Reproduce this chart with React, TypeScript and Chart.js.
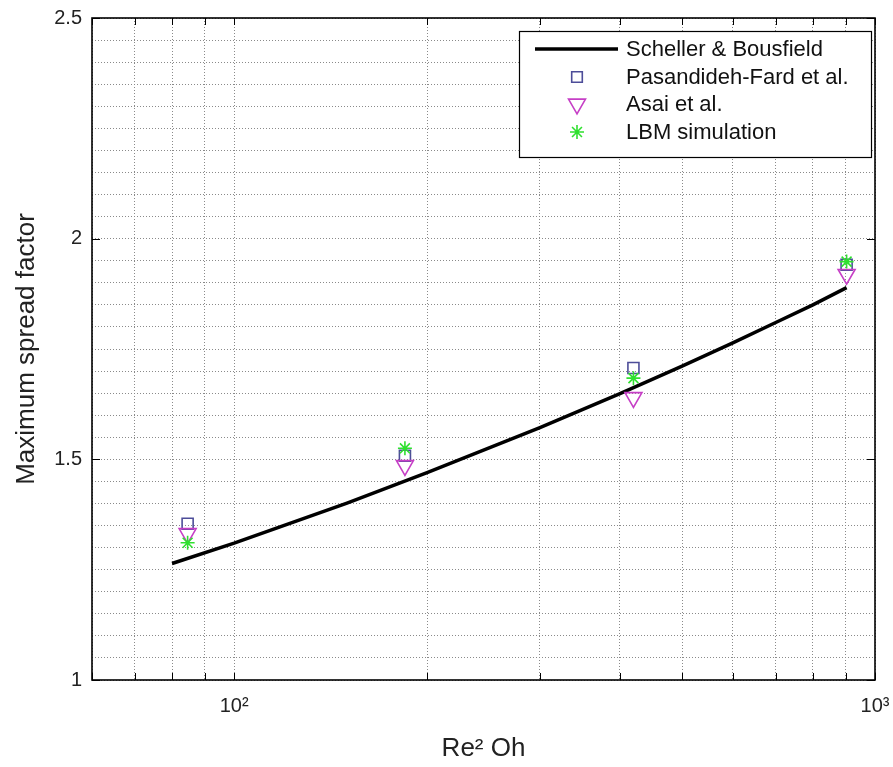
import React, { useEffect, useRef } from 'react';
import { Chart, registerables } from 'chart.js';
import { drawPoint } from 'chart.js/helpers';

Chart.register(...registerables);

// ---- data ----
const reValues = [84.6, 184.7, 419.8, 903];
const pasandidehFard = [1.354, 1.508, 1.707, 1.941];
const asai = [1.332, 1.486, 1.64, 1.919];
const lbmSimulation = [1.311, 1.525, 1.684, 1.948];

const schellerX = [80, 100, 150, 200, 300, 400, 500, 600, 700, 800, 903];
const schellerY = [1.264, 1.31, 1.401, 1.47, 1.572, 1.649, 1.711, 1.764, 1.81, 1.85, 1.889];

const seriesNames = ['Scheller & Bousfield', 'Pasandideh-Fard et al.', 'Asai et al.', 'LBM simulation'];

const xTickValues = [60, 70, 80, 90, 100, 200, 300, 400, 500, 600, 700, 800, 900, 1000];
const xTickLabels: Record<number, string> = { 100: '10²', 1000: '10³' };
const yMajorTicks = [1, 1.5, 2, 2.5];
const yMajorLabels = ['1', '1.5', '2', '2.5'];
const yMin = 1;
const yMax = 2.5;
const yGridStep = 0.05;

const FONT = "'Liberation Sans', Arial, sans-serif";

const COLORS = {
  line: '#000000',
  square: '#4d4d99',
  triangle: '#c63fc6',
  star: '#2fe02f',
  grid: '#8a8a8a',
  text: '#222222',
};

const framePlugin = {
  id: 'frameTicks',
  afterDatasetsDraw(chart: any) {
    const { ctx, chartArea: a, scales } = chart;
    ctx.save();
    ctx.strokeStyle = '#000';
    ctx.lineWidth = 1;
    ctx.setLineDash([]);
    ctx.beginPath();
    for (const v of xTickValues) {
      const x = Math.round(scales.x.getPixelForValue(v)) + 0.5;
      ctx.moveTo(x, a.bottom);
      ctx.lineTo(x, a.bottom - 7);
      ctx.moveTo(x, a.top);
      ctx.lineTo(x, a.top + 7);
    }
    for (const v of yMajorTicks) {
      const y = Math.round(scales.y.getPixelForValue(v)) + 0.5;
      ctx.moveTo(a.left, y);
      ctx.lineTo(a.left + 8, y);
      ctx.moveTo(a.right, y);
      ctx.lineTo(a.right - 8, y);
    }
    ctx.stroke();
    ctx.lineWidth = 1.6;
    ctx.strokeRect(a.left, a.top, a.right - a.left, a.bottom - a.top);
    ctx.restore();
  },
};

const legendPlugin = {
  id: 'insideLegend',
  afterDraw(chart: any) {
    const { ctx, chartArea: a } = chart;
    const boxRight = a.right - 4;
    const boxLeft = boxRight - 352;
    const boxTop = a.top + 13;
    const boxH = 126;
    ctx.save();
    ctx.fillStyle = '#fff';
    ctx.fillRect(boxLeft, boxTop, boxRight - boxLeft, boxH);
    ctx.strokeStyle = '#000';
    ctx.lineWidth = 1.2;
    ctx.strokeRect(boxLeft + 0.5, boxTop + 0.5, boxRight - boxLeft, boxH);
    const rowY = [18, 46, 73, 101];
    const markerX = boxLeft + 58;
    const textX = boxLeft + 107;
    chart.data.datasets.forEach((ds: any, i: number) => {
      const y = boxTop + rowY[i];
      if (i === 0) {
        ctx.strokeStyle = ds.borderColor;
        ctx.lineWidth = ds.borderWidth;
        ctx.beginPath();
        ctx.moveTo(boxLeft + 16, y);
        ctx.lineTo(boxLeft + 99, y);
        ctx.stroke();
      } else {
        ctx.strokeStyle = ds.pointBorderColor;
        ctx.fillStyle = 'rgba(0,0,0,0)';
        ctx.lineWidth = ds.pointBorderWidth;
        drawPoint(ctx, {
          pointStyle: ds.pointStyle,
          rotation: ds.pointRotation || 0,
          radius: ds.legendRadius,
          borderWidth: ds.pointBorderWidth,
        } as any, markerX, y);
      }
      ctx.fillStyle = '#111';
      ctx.font = `22px ${FONT}`;
      ctx.textAlign = 'left';
      ctx.textBaseline = 'middle';
      ctx.fillText(ds.label, textX, y + 1);
    });
    ctx.restore();
  },
};

export default function App() {
  const canvasRef = useRef<HTMLCanvasElement | null>(null);

  useEffect(() => {
    const canvas = canvasRef.current;
    if (!canvas) return;

    const toPoints = (xs: number[], ys: number[]) => xs.map((x, i) => ({ x, y: ys[i] }));

    const yGrid: number[] = [];
    for (let k = 0; yMin + k * yGridStep <= yMax + 1e-9; k++) {
      yGrid.push(Math.round((yMin + k * yGridStep) * 1000) / 1000);
    }

    const chart = new Chart(canvas, {
      type: 'scatter',
      data: {
        datasets: [
          {
            label: seriesNames[0],
            data: toPoints(schellerX, schellerY),
            showLine: true,
            borderColor: COLORS.line,
            borderWidth: 3.5,
            pointRadius: 0,
            tension: 0,
            order: 4,
          } as any,
          {
            label: seriesNames[1],
            data: toPoints(reValues, pasandidehFard),
            pointStyle: 'rect',
            pointRadius: 7.8,
            legendRadius: 7.5,
            pointBorderColor: COLORS.square,
            pointBackgroundColor: 'rgba(0,0,0,0)',
            pointBorderWidth: 1.6,
            showLine: false,
            order: 3,
          },
          {
            label: seriesNames[2],
            data: toPoints(reValues, asai),
            pointStyle: 'triangle',
            pointRotation: 180,
            pointRadius: 9.8,
            legendRadius: 9.8,
            pointBorderColor: COLORS.triangle,
            pointBackgroundColor: 'rgba(0,0,0,0)',
            pointBorderWidth: 1.6,
            showLine: false,
            order: 2,
          },
          {
            label: seriesNames[3],
            data: toPoints(reValues, lbmSimulation),
            pointStyle: 'star',
            pointRadius: 7,
            legendRadius: 7,
            pointBorderColor: COLORS.star,
            pointBackgroundColor: 'rgba(0,0,0,0)',
            pointBorderWidth: 1.6,
            showLine: false,
            order: 1,
          },
        ],
      },
      options: {
        animation: false,
        responsive: true,
        maintainAspectRatio: false,
        layout: { padding: { top: 18, right: 18, left: 0, bottom: 0 } },
        font: { family: FONT },
        plugins: {
          legend: { display: false },
          tooltip: { enabled: false },
        },
        scales: {
          x: {
            type: 'logarithmic',
            min: 60,
            max: 1000,
            afterBuildTicks(scale: any) {
              scale.ticks = xTickValues.map((v) => ({ value: v }));
            },
            afterFit(scale: any) {
              scale.height = 87;
              scale.paddingLeft = 0;
              scale.paddingRight = 0;
            },
            grid: { color: COLORS.grid, lineWidth: 1, drawTicks: false },
            border: { display: false, dash: [1, 2] },
            ticks: {
              autoSkip: false,
              maxRotation: 0,
              padding: 14,
              color: COLORS.text,
              font: { family: FONT, size: 20 },
              callback: (v: any) => xTickLabels[Number(v)] ?? '',
            },
            title: {
              display: true,
              text: 'Re² Oh',
              color: COLORS.text,
              font: { family: FONT, size: 26 },
              padding: { top: 0, bottom: 3 },
            },
          },
          y: {
            type: 'linear',
            min: yMin,
            max: yMax,
            afterBuildTicks(scale: any) {
              scale.ticks = yGrid.map((v) => ({ value: v }));
            },
            afterFit(scale: any) {
              scale.width = 92;
              scale.paddingTop = 0;
              scale.paddingBottom = 0;
            },
            grid: { color: COLORS.grid, lineWidth: 1, drawTicks: false },
            border: { display: false, dash: [1, 2] },
            ticks: {
              autoSkip: false,
              padding: 10,
              color: COLORS.text,
              font: { family: FONT, size: 20 },
              callback: (v: any) => {
                const idx = yMajorTicks.findIndex((m) => Math.abs(m - Number(v)) < 1e-6);
                return idx >= 0 ? yMajorLabels[idx] : '';
              },
            },
            title: {
              display: true,
              text: 'Maximum spread factor',
              color: COLORS.text,
              font: { family: FONT, size: 26 },
              padding: { top: 11, bottom: 0 },
            },
          },
        },
      } as any,
      plugins: [framePlugin, legendPlugin],
    });

    return () => chart.destroy();
  }, []);

  return (
    <div style={{ position: 'fixed', left: 0, top: 0, width: 893, height: 767, background: '#fff' }}>
      <canvas ref={canvasRef} />
    </div>
  );
}
